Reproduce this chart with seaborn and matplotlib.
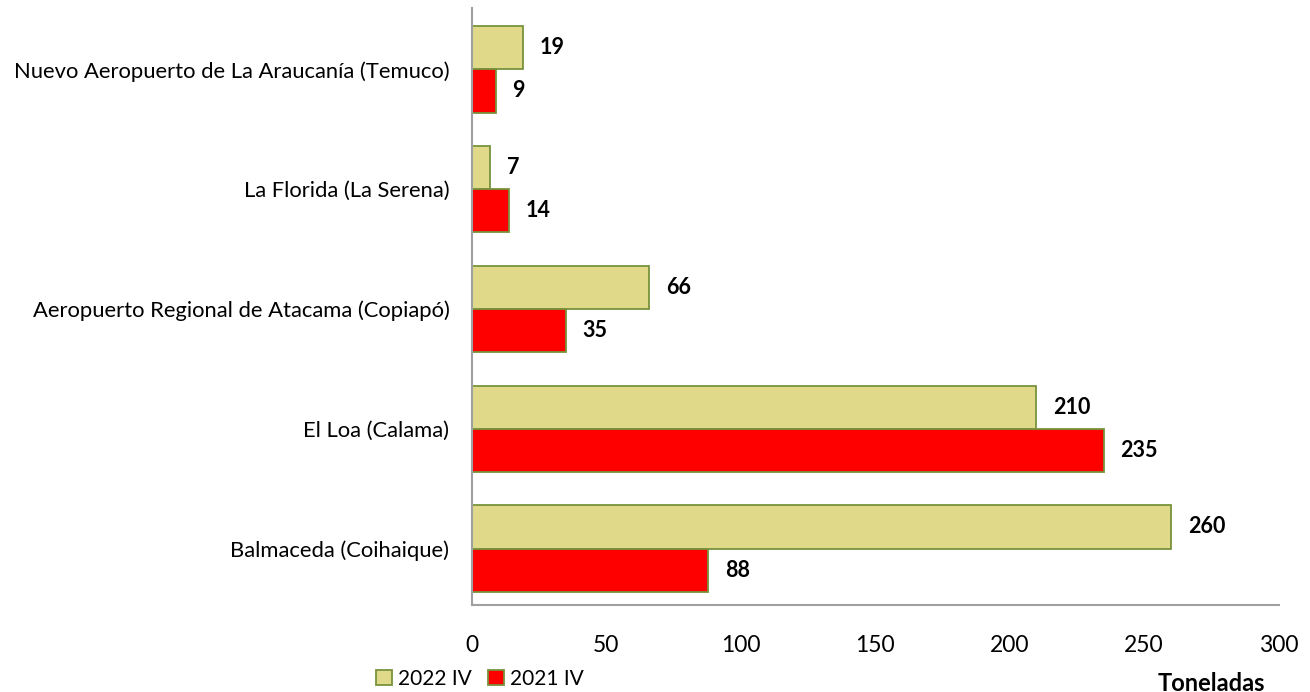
import matplotlib
matplotlib.use("Agg")
import matplotlib.pyplot as plt
import seaborn as sns
import pandas as pd

# airports, top to bottom
aeropuertos = [
    "Nuevo Aeropuerto de La Araucanía (Temuco)",
    "La Florida (La Serena)",
    "Aeropuerto Regional de Atacama (Copiapó)",
    "El Loa (Calama)",
    "Balmaceda (Coihaique)",
]
series = ["2022 IV", "2021 IV"]
t_2022 = [19, 7, 66, 210, 260]
t_2021 = [9, 14, 35, 235, 88]

df = pd.DataFrame({
    "aeropuerto": aeropuertos * 2,
    "periodo": [series[0]] * 5 + [series[1]] * 5,
    "toneladas": t_2022 + t_2021,
})

sns.set_style("white")
plt.rcParams["font.family"] = ["Lato", "DejaVu Sans"]
plt.rcParams["text.color"] = "black"
plt.rcParams["xtick.color"] = "black"
plt.rcParams["ytick.color"] = "black"

fig = plt.figure(figsize=(13.1, 6.92), dpi=100)
ax = fig.add_axes([0.360, 0.126, 0.616, 0.862])

sns.barplot(data=df, y="aeropuerto", x="toneladas", hue="periodo",
            hue_order=series, order=aeropuertos, orient="h",
            palette=["#E1D98A", "#FF0000"], width=0.72,
            edgecolor="#77933C", linewidth=1.3, saturation=1, ax=ax)

for cont in ax.containers:
    ax.bar_label(cont, padding=12, fontsize=15.5, fontweight="bold",
                 color="black")

ax.set_xlim(0, 300)
ax.set_ylim(4.47, -0.51)
ax.set_xticks(range(0, 301, 50))
ax.tick_params(axis="x", labelsize=16.5, length=0, pad=22, labelcolor="black")
ax.tick_params(axis="y", labelsize=15.8, length=0, pad=16, labelcolor="black")
ax.set_ylabel("")
ax.set_xlabel("")
for s in ["top", "right"]:
    ax.spines[s].set_visible(False)
for s in ["left", "bottom"]:
    ax.spines[s].set_color("#A0A0A0")
    ax.spines[s].set_linewidth(1.5)

ax.legend_.remove()
handles, labels = ax.get_legend_handles_labels()
fig.legend(handles, labels, loc="center left", bbox_to_anchor=(0.287, 0.019),
           ncol=2, frameon=False, fontsize=15, handlelength=0.75,
           handleheight=0.75, handletextpad=0.3, columnspacing=0.8,
           borderaxespad=0, borderpad=0, labelcolor="black")

fig.text(0.925, 0.013, "Toneladas", ha="center", va="center",
         fontsize=17, fontweight="bold", color="black")

fig.savefig("out.png", dpi=100)
